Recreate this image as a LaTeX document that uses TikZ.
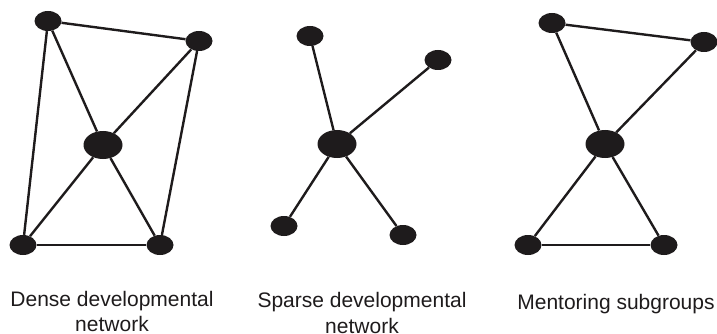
\documentclass[tikz,border=0pt]{standalone}
\usepackage{fontspec}
\setmainfont{Liberation Sans}
\usepackage{tikz}
\usetikzlibrary{positioning, shapes.geometric}
\definecolor{ink}{RGB}{30,27,28}
\tikzstyle{Peer} = [
ellipse,
fill=ink,
inner sep=0pt,
minimum width=27pt,
minimum height=20pt]
\tikzstyle{Focal} = [
Peer,
minimum width=39pt,
minimum height=28pt]
\tikzstyle{Tie} = [
line width=2.4pt,
ink]
\tikzstyle{Caption} = [
align=center,
anchor=base,
text=ink,
font=\fontsize{21}{25.5}\selectfont]

\begin{document}
\begin{tikzpicture}[x=1pt, y=-1pt]
    \useasboundingbox (0,0) rectangle (717,334);

    % dense developmental network
    \node [Peer] (a1) at (48,21) {};
    \node [Peer] (a2) at (199,41) {};
    \node [Focal] (a3) at (103,145) {};
    \node [Peer] (a4) at (23,245) {};
    \node [Peer] (a5) at (160,245) {};

    \draw[Tie] (a1) -- (a2);
    \draw[Tie] (a1) -- (a4);
    \draw[Tie] (a1) -- (a3);
    \draw[Tie] (a2) -- (a3);
    \draw[Tie] (a2) -- (a5);
    \draw[Tie] (a3) -- (a4);
    \draw[Tie] (a3) -- (a5);
    \draw[Tie] (a4) -- (a5);

    % sparse developmental network
    \node [Peer] (b1) at (310,36) {};
    \node [Peer] (b2) at (438,60) {};
    \node [Focal] (b3) at (337,144) {};
    \node [Peer] (b4) at (284,226) {};
    \node [Peer] (b5) at (403,235) {};

    \draw[Tie] (b3) -- (b1);
    \draw[Tie] (b3) -- (b2);
    \draw[Tie] (b3) -- (b4);
    \draw[Tie] (b3) -- (b5);

    % mentoring subgroups
    \node [Peer] (c1) at (552,23) {};
    \node [Peer] (c2) at (704,42) {};
    \node [Focal] (c3) at (605,144) {};
    \node [Peer] (c4) at (528,245) {};
    \node [Peer] (c5) at (664,245) {};

    \draw[Tie] (c1) -- (c2);
    \draw[Tie] (c1) -- (c3);
    \draw[Tie] (c2) -- (c3);
    \draw[Tie] (c3) -- (c4);
    \draw[Tie] (c3) -- (c5);
    \draw[Tie] (c4) -- (c5);

    % base of a two-line caption sits on its last line
    \node [Caption] (dense) at (112,331.5) {Dense developmental\\network};
    \node [Caption] (sparse) at (362,333) {Sparse developmental\\network};
    \node [Caption] (mentor) at (616,309) {Mentoring subgroups};
\end{tikzpicture}
\end{document}
